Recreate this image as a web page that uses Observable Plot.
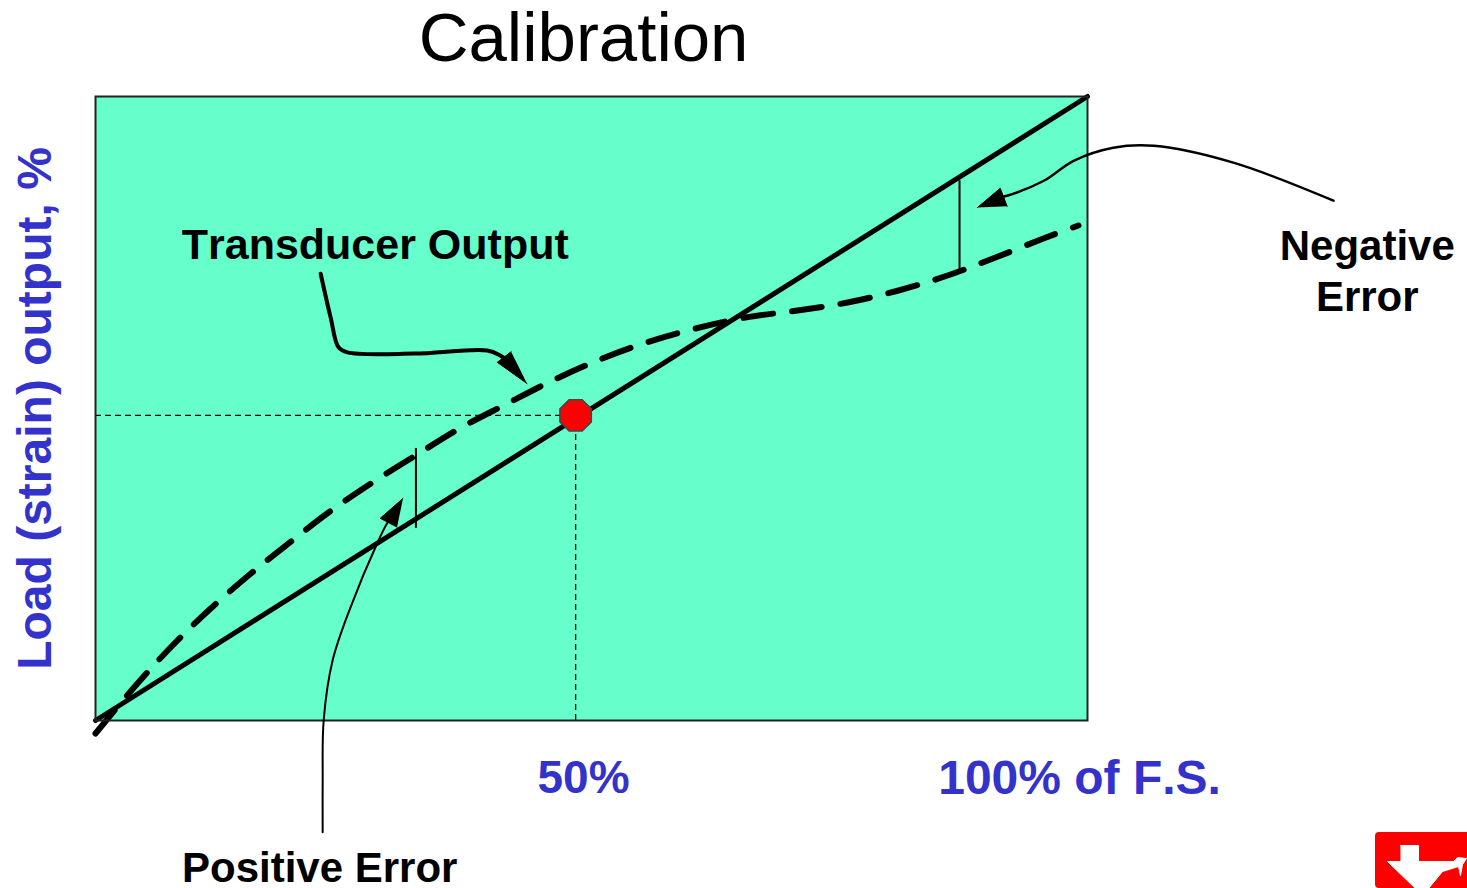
<!DOCTYPE html>
<html>
<head>
<meta charset="utf-8">
<script src="https://cdn.jsdelivr.net/npm/d3@7"></script>
<script src="https://cdn.jsdelivr.net/npm/@observablehq/plot@0.6"></script>
<style>
  html, body { margin: 0; padding: 0; background: #fff; }
  #chart svg { display: block; }
  #chart svg text { font-kerning: none; }
</style>
</head>
<body>
<div id="chart"></div>
<script>
// ---- Data (chart units: % of full scale) ----
const idealX = [0, 100];
const idealY = [0, 100];

const outputX = [0, 4.23, 7.76, 11.39, 15.42, 19.46, 23.49, 27.92, 32.26, 36.69, 41.33, 45.87, 50.60, 55.54, 60.48, 65.52, 70.77, 75.81, 80.95, 85.89, 90.73, 95.56, 99.09];
const outputY = [-2.08, 5.93, 12.02, 17.63, 23.24, 28.37, 33.33, 38.14, 42.47, 46.79, 50.64, 54.33, 57.69, 60.58, 62.82, 64.58, 65.71, 66.99, 68.91, 71.31, 74.20, 77.24, 79.33];

const calX = [48.4];
const calY = [48.9];

const tickLabels = ["50%", "100% of F.S."];
const tickX = [49.2, 99.2];

// error bars
const errX = [32.3, 87.1];
const errY1 = [30.8, 86.5];
const errY2 = [43.6, 71.8];

// annotation arrows (paths + heads)
const tdPathX = [22.7, 23.7, 24.5, 25.4, 32.1, 39.5, 40.8, 41.6];
const tdPathY = [71.6, 64.6, 59.8, 59.0, 58.8, 59.3, 58.5, 57.6];
const tdHeadX = [43.5, 40.5, 41.9];
const tdHeadY = [54.0, 57.4, 59.1];

const negPathX = [124.8, 114.7, 106.7, 102.6, 98.6, 95.6, 91.9, 91.0];
const negPathY = [83.3, 89.4, 92.1, 91.8, 89.7, 86.5, 84.1, 83.8];
const negHeadX = [88.9, 91.2, 91.9];
const negHeadY = [82.2, 85.3, 82.4];

const posPathX = [22.9, 22.9, 23.0, 23.9, 25.7, 28.4, 29.4, 29.7];
const posPathY = [-17.9, -9.6, 0, 9.6, 18.1, 28.4, 31.6, 32.2];
const posHeadX = [31.0, 28.7, 30.4];
const posHeadY = [35.6, 32.4, 31.0];

// logo
const logoBoxX = [129.03, 139.5];
const logoBoxY = [-17.95, -26.92];
const logoShapeX = [131.55, 133.37, 133.37, 136.90, 137.30, 138.21, 137.80, 137.60, 137.40, 135.79, 134.38, 133.06, 130.24, 131.55];
const logoShapeY = [-20.03, -20.03, -22.60, -22.60, -21.96, -22.12, -23.08, -24.84, -23.40, -24.20, -26.92, -26.92, -22.60, -22.60];

const toPts = (xs, ys) => xs.map((x, i) => ({x, y: ys[i]}));

const octagon = {
  draw(context, size) {
    const r = Math.sqrt(size / Math.PI);
    for (let i = 0; i < 8; i++) {
      const a = (Math.PI / 8) + i * Math.PI / 4;
      const px = r * Math.cos(a), py = r * Math.sin(a);
      if (i === 0) context.moveTo(px, py); else context.lineTo(px, py);
    }
    context.closePath();
  }
};

const font = "'Liberation Sans', Arial, sans-serif";
const blue = "#3333CC";

const chart = Plot.plot({
  width: 1467,
  height: 888,
  marginLeft: 95,
  marginRight: 380,
  marginTop: 96,
  marginBottom: 168,
  x: {domain: [0, 100], axis: null},
  y: {domain: [0, 100], axis: null},
  style: {fontFamily: font, background: "white", overflow: "visible"},
  marks: [
    Plot.frame({fill: "#66FFCC", stroke: "none"}),
    // guide lines to calibration point
    Plot.ruleY(calY, {x1: 0, x2: calX[0], y: d => d, stroke: "black", strokeWidth: 1.3, strokeDasharray: "6,4"}),
    Plot.ruleX(calX, {y1: 0, y2: calY[0], x: d => d, stroke: "black", strokeWidth: 1.3, strokeDasharray: "6,4"}),
    // ideal straight line
    Plot.line(toPts(idealX, idealY), {x: "x", y: "y", stroke: "black", strokeWidth: 5}),
    // transducer output dashed curve
    Plot.line(toPts(outputX, outputY), {x: "x", y: "y", stroke: "black", strokeWidth: 6, strokeDasharray: "30,19", curve: "catmull-rom"}),
    // error bars
    Plot.ruleX(errX.map((x, i) => ({x, y1: errY1[i], y2: errY2[i]})), {x: "x", y1: "y1", y2: "y2", stroke: "black", strokeWidth: 2}),
    // frame border
    Plot.frame({stroke: "#222", strokeWidth: 2}),
    // calibration point
    Plot.dot(toPts(calX, calY), {x: "x", y: "y", r: 17, symbol: octagon, fill: "#FF0000", stroke: "#444", strokeWidth: 1.5}),
    // annotation arrows
    Plot.line(toPts(tdPathX, tdPathY), {x: "x", y: "y", stroke: "black", strokeWidth: 4, curve: "catmull-rom"}),
    Plot.line(toPts(tdHeadX, tdHeadY), {x: "x", y: "y", stroke: "black", fill: "black", strokeWidth: 1}),
    Plot.line(toPts(negPathX, negPathY), {x: "x", y: "y", stroke: "black", strokeWidth: 2.5, curve: "catmull-rom"}),
    Plot.line(toPts(negHeadX, negHeadY), {x: "x", y: "y", stroke: "black", fill: "black", strokeWidth: 1}),
    Plot.line(toPts(posPathX, posPathY), {x: "x", y: "y", stroke: "black", strokeWidth: 2, curve: "catmull-rom"}),
    Plot.line(toPts(posHeadX, posHeadY), {x: "x", y: "y", stroke: "black", fill: "black", strokeWidth: 1}),
    // annotation labels
    Plot.text(["Transducer Output"], {x: 28.2, y: 76.1, text: d => d, fontSize: 43, fontWeight: "bold", fill: "black", textAnchor: "middle", lineAnchor: "middle"}),
    Plot.text(["Negative\nError"], {x: 128.2, y: 72.3, text: d => d, fontSize: 42, fontWeight: "bold", fill: "black", textAnchor: "middle", lineAnchor: "middle", lineHeight: 1.21}),
    Plot.text(["Positive Error"], {x: 22.6, y: -23.7, text: d => d, fontSize: 42, fontWeight: "bold", fill: "black", textAnchor: "middle", lineAnchor: "middle"}),
    // tick labels
    Plot.text([tickLabels[0]], {x: tickX[0], y: -9.3, text: d => d, fontSize: 46, fontWeight: "bold", fill: blue, textAnchor: "middle", lineAnchor: "middle"}),
    Plot.text([tickLabels[1]], {x: tickX[1], y: -9.3, text: d => d, fontSize: 48, fontWeight: "bold", fill: blue, textAnchor: "middle", lineAnchor: "middle"}),
    // y axis label
    Plot.text(["Load (strain) output, %"], {x: -6.0, y: 50, text: d => d, rotate: -90, fontSize: 48, fontWeight: "bold", fill: blue, textAnchor: "middle", lineAnchor: "middle"}),
    // title
    Plot.text(["Calibration"], {x: 49.2, y: 109.3, text: d => d, fontSize: 69, fontWeight: "normal", fill: "black", textAnchor: "middle", lineAnchor: "middle"}),
    // logo
    Plot.rect([{x1: logoBoxX[0], x2: logoBoxX[1], y1: logoBoxY[0], y2: logoBoxY[1]}], {x1: "x1", x2: "x2", y1: "y1", y2: "y2", fill: "#FF0000", rx: 4}),
    Plot.line(toPts(logoShapeX, logoShapeY), {x: "x", y: "y", fill: "white", stroke: "white", strokeWidth: 1})
  ]
});

document.getElementById("chart").appendChild(chart);
</script>
</body>
</html>
